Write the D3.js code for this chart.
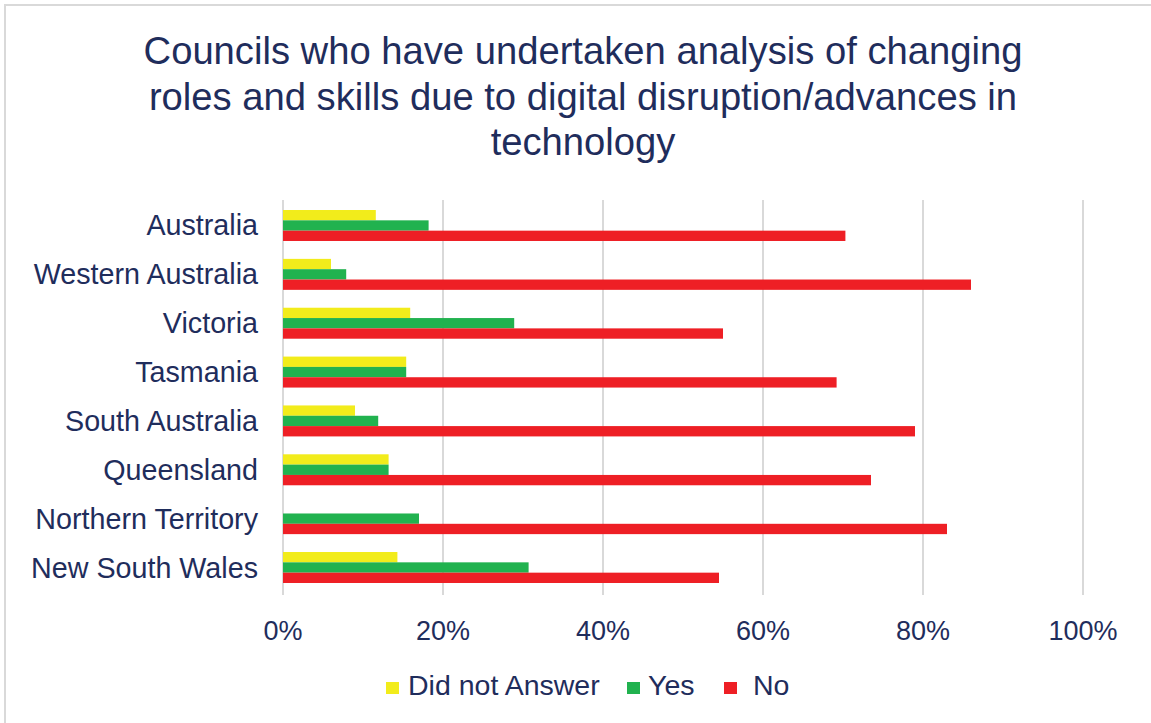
<!DOCTYPE html>
<html>
<head>
<meta charset="utf-8">
<script src="https://cdn.jsdelivr.net/npm/d3@7"></script>
<style>
  html, body { margin: 0; padding: 0; background: #ffffff; }
  svg { display: block; }
  text { font-family: "Liberation Sans", Arial, sans-serif; fill: #1F2D5C; }
</style>
</head>
<body>
<svg id="chart" width="1151" height="723"></svg>
<script>
const categories = ["Australia", "Western Australia", "Victoria", "Tasmania", "South Australia", "Queensland", "Northern Territory", "New South Wales"];
const didNotAnswer = [11.6, 6.0, 15.9, 15.4, 9.0, 13.2, 0, 14.3];
const yes = [18.2, 7.9, 28.9, 15.4, 11.9, 13.2, 17.0, 30.7];
const no = [70.3, 86.0, 55.0, 69.2, 79.0, 73.5, 83.0, 54.5];
const seriesNames = ["Did not Answer", "Yes", "No"];
const seriesColors = ["#F2EC1B", "#21B24F", "#EE1F25"];
const tickValues = [0, 20, 40, 60, 80, 100];
const titleLines = ["Councils who have undertaken analysis of changing", "roles and skills due to digital disruption/advances in", "technology"];

const seriesValues = [didNotAnswer, yes, no];

const svg = d3.select("#chart");

// outer frame (top and left edges visible)
svg.append("path")
  .attr("d", "M5,1000 L5,5 L2000,5")
  .attr("fill", "none")
  .attr("stroke", "#D9D9D9")
  .attr("stroke-width", 2);

const x = d3.scaleLinear().domain([0, 100]).range([283, 1083]);
const y = d3.scaleBand().domain(categories).range([201.07, 591.93]).paddingInner(0.366).paddingOuter(0.183);
const ySub = d3.scaleBand().domain(seriesNames).range([0, y.bandwidth()]).padding(0);

// gridlines
svg.append("g").selectAll("line").data(tickValues).join("line")
  .attr("x1", d => x(d)).attr("x2", d => x(d))
  .attr("y1", 200).attr("y2", 595)
  .attr("stroke", "#D9D9D9").attr("stroke-width", 2);

// bars
seriesNames.forEach((name, si) => {
  svg.append("g").selectAll("rect").data(categories).join("rect")
    .attr("x", x(0))
    .attr("y", c => y(c) + ySub(name))
    .attr("width", (c, i) => x(seriesValues[si][i]) - x(0))
    .attr("height", ySub.bandwidth())
    .attr("fill", seriesColors[si]);
});

// category labels
svg.append("g").selectAll("text").data(categories).join("text")
  .attr("x", 258)
  .attr("y", c => y(c) + y.bandwidth() / 2 + 10)
  .attr("text-anchor", "end")
  .attr("font-size", 28.7)
  .text(c => c);

// x tick labels
svg.append("g").selectAll("text").data(tickValues).join("text")
  .attr("x", d => x(d))
  .attr("y", 640)
  .attr("text-anchor", "middle")
  .attr("font-size", 27)
  .text(d => d + "%");

// title
svg.append("g").selectAll("text").data(titleLines).join("text")
  .attr("x", 583)
  .attr("y", (d, i) => 64 + i * 45.5)
  .attr("text-anchor", "middle")
  .attr("font-size", 38.2)
  .text(d => d);

// legend
const legendPos = [{sq: 386, tx: 408}, {sq: 627, tx: 648}, {sq: 724, tx: 753}];
const lg = svg.append("g");
seriesNames.forEach((name, i) => {
  lg.append("rect")
    .attr("x", legendPos[i].sq).attr("y", 682)
    .attr("width", 13).attr("height", 12)
    .attr("fill", seriesColors[i]);
  lg.append("text")
    .attr("x", legendPos[i].tx).attr("y", 695)
    .attr("font-size", 28.5)
    .text(name);
});
</script>
</body>
</html>
